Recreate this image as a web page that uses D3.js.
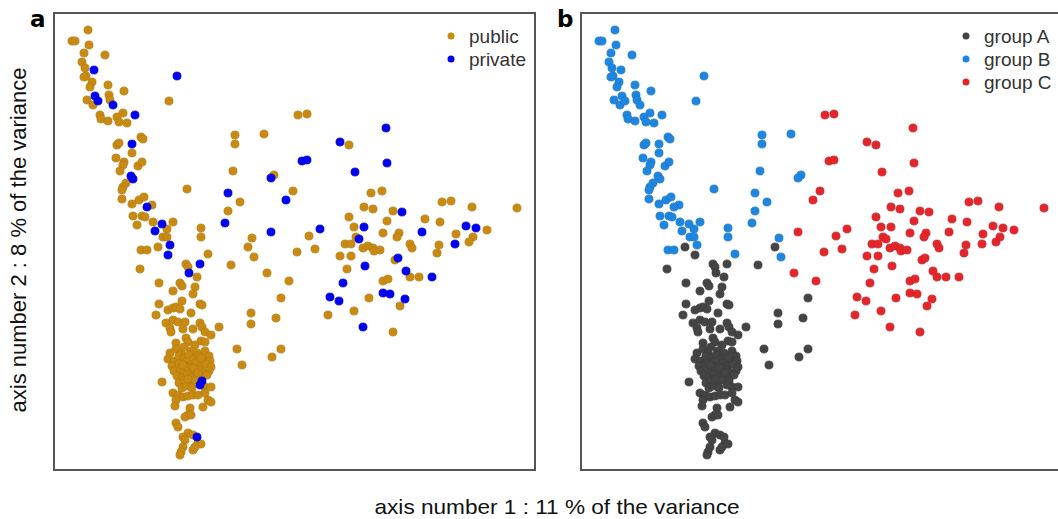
<!DOCTYPE html>
<html>
<head>
<meta charset="utf-8">
<script src="https://cdn.jsdelivr.net/npm/d3@7"></script>
<style>
  body { margin: 0; background: #fff; }
  svg { display: block; }
</style>
</head>
<body>
<div id="chart"></div>
<script>
// point scores [axis 1, axis 2], split by status (public / private) and cluster (A / B / C)
const publicA = [[1.04,2.23],[1.94,2.23],[0.86,2.01],[1.32,2.06],[1.34,2.03],[1.43,1.93],[1.77,2.05],
  [1.05,1.87],[1.26,1.87],[1.28,1.84],[1.41,1.83],[1.19,1.79],[1.39,1.76],[2.27,1.72],[1.28,1.69],
  [1.05,1.66],[1.46,1.66],[1.48,1.65],[1.14,1.60],[1.19,1.62],[1.22,1.63],[1.26,1.61],[1.02,1.55],
  [1.37,1.57],[1.97,1.57],[1.97,1.46],[2.22,1.52],[1.12,1.47],[1.19,1.50],[1.24,1.48],[1.31,1.48],
  [1.46,1.47],[1.48,1.43],[1.51,1.38],[1.16,1.42],[1.17,1.38],[1.29,1.41],[1.39,1.41],[1.65,1.43],
  [1.57,1.35],[1.32,1.32],[1.34,1.28],[1.22,1.27],[1.47,1.29],[1.51,1.28],[1.41,1.25],[1.83,1.21],
  [2.27,1.21],[2.18,1.13],[1.88,1.05],
  // dense core
  [1.16,1.17],[1.22,1.21],[1.27,1.17],[1.30,1.23],[1.37,1.19],[1.43,1.17],[1.51,1.19],[1.55,1.14],
  [1.14,1.11],[1.20,1.09],[1.25,1.14],[1.30,1.12],[1.35,1.15],[1.40,1.11],[1.45,1.14],[1.49,1.10],[1.56,1.09],
  [1.18,1.04],[1.25,1.06],[1.32,1.08],[1.37,1.05],[1.42,1.07],[1.47,1.04],[1.52,1.06],[1.57,1.03],
  [1.20,0.99],[1.27,1.00],[1.30,0.97],[1.35,1.01],[1.40,0.98],[1.45,1.00],[1.50,0.97],[1.55,0.99],
  [1.23,0.94],[1.28,0.92],[1.33,0.96],[1.38,0.93],[1.43,0.95],[1.48,0.92],[1.53,0.95],
  [1.25,0.87],[1.30,0.90],[1.36,0.87],[1.41,0.90],[1.08,0.88],[1.28,0.82],[1.33,0.84],[1.38,0.82],
  [1.33,1.03],[1.39,1.02],[1.29,1.05],[1.44,0.97],[1.34,0.91],[1.47,1.12],
  [1.51,0.83],[1.57,0.83],[1.19,0.77],[1.24,0.75],[1.29,0.73],[1.34,0.74],[1.39,0.75],[1.44,0.75],
  [1.51,0.77],[1.54,0.70],[1.57,0.68],[1.22,0.70],[1.21,0.64],[1.49,0.63],[1.36,0.62],[1.34,0.55],
  [1.31,0.53],[1.37,0.55],[1.22,0.47],[1.24,0.43],[1.34,0.37],[1.29,0.33],[1.39,0.35],[1.31,0.30],
  [1.44,0.27],[1.47,0.26],[1.29,0.23],[1.27,0.18],[1.26,0.15],[1.39,0.20],[1.41,0.23]];
const privateA = [[1.14,2.15],[1.35,1.97],[1.46,2.06],[1.48,0.89],[1.46,0.85],[1.43,0.33]];

const publicB = [[0.34,4.40],[0.18,4.29],[0.21,4.29],[0.35,4.25],[0.30,4.17],[0.51,4.15],[0.28,4.08],
  [0.31,4.02],[0.32,3.94],[0.30,3.93],[0.38,3.88],[0.36,3.83],[0.54,3.85],[0.70,3.79],[0.55,3.75],
  [0.33,3.70],[0.39,3.65],[0.56,3.70],[1.15,3.69],[0.69,3.57],[0.63,3.53],[0.46,3.55],[0.47,3.51],
  [0.54,3.49],[0.65,3.48],[0.73,3.47],[1.81,3.35],[1.81,3.26],[2.10,3.36],[0.87,3.33],[0.89,3.31],
  [0.63,3.25],[0.65,3.27],[0.78,3.17],[0.62,3.12],[0.70,3.08],[0.69,3.05],[0.84,3.04],[0.88,3.08],
  [0.66,2.99],[1.79,2.99],[2.20,2.95],[0.72,2.87],[0.69,2.83],[0.68,2.80],[1.33,2.81],[1.86,2.68],
  [0.68,2.71],[0.78,2.66],[0.85,2.70],[0.90,2.73],[0.98,2.65],[1.74,2.59],[0.79,2.54],[0.88,2.54],
  [0.91,2.53],[0.83,2.45],[0.99,2.48],[1.19,2.48],[1.13,2.41],[1.47,2.42],[1.98,2.32],[1.09,2.33],
  [1.13,2.33],[1.47,2.33],[0.87,2.20],[0.93,2.20],[1.54,2.16],[2.00,2.13]];
const privateB = [[0.40,4.00],[1.23,3.94],[0.41,3.74],[0.44,3.69],[0.59,3.65],[0.81,3.55],[0.78,3.26],
  [0.77,2.94],[0.79,2.91],[2.17,2.92],[1.74,2.77],[0.93,2.63],[1.08,2.46],[1.71,2.47],[1.01,2.39],[1.16,2.25]];

const publicC = [[2.44,3.55],[2.53,3.56],[2.95,3.25],[2.39,2.79],[3.17,2.77],[3.28,2.79],[3.88,2.68],
  [3.97,2.69],[4.18,2.63],[4.63,2.62],[3.10,2.63],[3.19,2.61],[3.39,2.59],[2.95,2.53],[3.71,2.51],
  [3.33,2.49],[3.86,2.48],[4.33,2.40],[3.00,2.43],[2.55,2.34],[3.29,2.37],[3.45,2.37],[3.43,2.33],
  [4.02,2.36],[4.19,2.33],[3.02,2.33],[2.91,2.26],[2.97,2.26],[3.09,2.22],[3.14,2.24],[3.19,2.22],
  [3.20,2.19],[3.26,2.20],[3.56,2.26],[3.58,2.22],[3.85,2.25],[4.15,2.28],[2.43,2.18],[2.61,2.21],
  [2.86,2.14],[2.97,2.14],[3.41,2.10],[3.83,2.17],[2.93,2.01],[3.56,1.93],[3.65,1.93],[3.29,1.89],
  [3.34,1.91],[2.35,1.89],[3.15,1.72],[3.46,1.64],[3.00,1.59],[2.74,1.55],[3.39,1.38],[2.13,1.97]];
const privateC = [[3.32,3.42],[2.86,3.28],[2.48,3.09],[2.53,3.10],[3.33,3.07],[3.01,2.98],[2.32,2.70],
  [3.48,2.58],[4.12,2.44],[4.22,2.42],[3.10,2.43],[2.66,2.41],[3.68,2.38],[3.05,2.31],[2.17,2.38],
  [4.01,2.26],[3.44,2.12],[3.11,2.04],[3.52,1.99],[3.78,1.93],[2.89,1.87],[3.29,1.77],[3.36,1.76],
  [2.76,1.73],[2.85,1.69],[3.51,1.71],[3.09,1.43]];

const statusLabels = ["public", "private"];
const groupLabels = ["group A", "group B", "group C"];

const statusColors = ["#c98a12", "#0000f0"];
const groupColors = ["#444444", "#1f86e0", "#e3262b"];

const W = 1058, H = 519;
const panelW = 481, panelH = 457;
const panelA = {left: 54, top: 13};
const panelB = {left: 581, top: 13};

const svg = d3.select("#chart").append("svg")
    .attr("width", W)
    .attr("height", H);

const x = d3.scaleLinear().domain([0, 4.81]).range([0, panelW]);
const y = d3.scaleLinear().domain([0, 4.57]).range([panelH, 0]);

function drawPanel(pos, letter, series, labels, colors) {
    const g = svg.append("g")
        .attr("transform", "translate(" + pos.left + "," + pos.top + ")");

    g.append("rect")
        .attr("x", 0).attr("y", 0)
        .attr("width", panelW).attr("height", panelH)
        .attr("fill", "none")
        .attr("stroke", "#555")
        .attr("stroke-width", 2);

    series.forEach(function(s) {
        g.selectAll(null)
            .data(s.values)
            .enter()
            .append("circle")
            .attr("cx", d => x(d[0]))
            .attr("cy", d => y(d[1]))
            .attr("r", 4.1)
            .attr("fill", colors[s.k])
            .attr("stroke", d3.color(colors[s.k]).darker(0.4))
            .attr("stroke-width", 0.6);
    });

    // legend in top right corner
    const leg = g.append("g")
        .attr("transform", "translate(" + (pos === panelA ? 397 : 385) + ",23)");
    labels.forEach(function(lab, i) {
        leg.append("circle")
            .attr("cx", 0).attr("cy", i * 23)
            .attr("r", 3.5)
            .attr("fill", colors[i]);
        leg.append("text")
            .attr("x", 18).attr("y", i * 23 + 7)
            .style("font-family", "'Liberation Sans', Arial, sans-serif")
            .style("font-size", "19px")
            .style("fill", "#333")
            .text(lab);
    });

    svg.append("text")
        .attr("x", pos.left - 24).attr("y", 27)
        .style("font-family", "'DejaVu Sans', sans-serif")
        .style("font-weight", "bold")
        .style("font-size", "23px")
        .text(letter);
}

drawPanel(panelA, "a", [
    {k: 0, values: publicA.concat(publicB, publicC)},
    {k: 1, values: privateA.concat(privateB, privateC)}
], statusLabels, statusColors);

drawPanel(panelB, "b", [
    {k: 0, values: publicA.concat(privateA)},
    {k: 1, values: publicB.concat(privateB)},
    {k: 2, values: publicC.concat(privateC)}
], groupLabels, groupColors);

// axis titles
svg.append("text")
    .attr("x", 557).attr("y", 514)
    .attr("text-anchor", "middle")
    .attr("textLength", 365)
    .attr("lengthAdjust", "spacingAndGlyphs")
    .style("font-family", "'Liberation Sans', Arial, sans-serif")
    .style("font-size", "21px")
    .style("fill", "#111")
    .text("axis number 1 : 11 % of the variance");

svg.append("text")
    .attr("transform", "translate(26,240) rotate(-90)")
    .attr("text-anchor", "middle")
    .style("font-family", "'Liberation Sans', Arial, sans-serif")
    .style("font-size", "22px")
    .style("fill", "#111")
    .text("axis number 2 : 8 % of the variance");
</script>
</body>
</html>
